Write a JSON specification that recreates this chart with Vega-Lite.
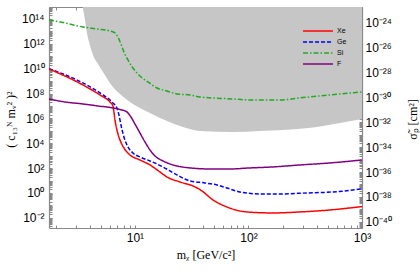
{
 "$schema": "https://vega.github.io/schema/vega-lite/v6.json",
 "width": 313, "height": 221,
 "autosize": {"type": "none"},
 "padding": {"left": 49, "top": 7, "right": 58, "bottom": 45},
 "background": "white",
 "config": {
  "view": {"stroke": null},
  "axis": {"grid": false, "domainColor": "#888", "tickColor": "#888", "domainWidth": 1.2, "tickWidth": 1,
   "labelFont": "Liberation Sans", "labelFontSize": 12, "labelColor": "black",
   "titleFont": "Liberation Serif", "titleFontWeight": "normal", "titleFontSize": 12, "titleColor": "black",
   "labelOverlap": false, "labelFlush": false, "tickSize": -3}
 },
 "datasets": {
  "gray": [
   {"x": 3.45, "y": 1.2e15}, {"x": 3.63, "y": 8.28e13}, {"x": 3.78, "y": 7.45e12}, {"x": 4.01, "y": 8.07e11},
   {"x": 4.27, "y": 1.27e11}, {"x": 4.72, "y": 2.39e10}, {"x": 5.23, "y": 5.43e9}, {"x": 5.78, "y": 1.23e9},
   {"x": 6.40, "y": 3.37e8}, {"x": 7.38, "y": 9.23e7}, {"x": 9.04, "y": 2.09e7}, {"x": 11.07, "y": 6.89e6},
   {"x": 13.56, "y": 2.73e6}, {"x": 19.14, "y": 6.21e5}, {"x": 26.48, "y": 2.04e5}, {"x": 37.38, "y": 9.73e4},
   {"x": 73.04, "y": 8.07e4}, {"x": 126.3, "y": 9.73e4}, {"x": 201.4, "y": 1.17e5}, {"x": 401.3, "y": 2.04e5},
   {"x": 640.2, "y": 4.29e5}, {"x": 1000, "y": 8.97e5}
  ],
  "lines": [
   {"n": "Ge", "x": 1.75, "y": 1.0e10}, {"n": "Ge", "x": 3.48, "y": 7.08e8}, {"n": "Ge", "x": 4.92, "y": 1.11e8},
   {"n": "Ge", "x": 6.40, "y": 1.74e7}, {"n": "Ge", "x": 6.94, "y": 6.89e6}, {"n": "Ge", "x": 7.23, "y": 1.88e6},
   {"n": "Ge", "x": 7.53, "y": 2.96e5}, {"n": "Ge", "x": 8.00, "y": 3.2e4}, {"n": "Ge", "x": 8.68, "y": 5.02e3},
   {"n": "Ge", "x": 9.60, "y": 1.65e3}, {"n": "Ge", "x": 11.07, "y": 787}, {"n": "Ge", "x": 13.56, "y": 375},
   {"n": "Ge", "x": 17.65, "y": 124}, {"n": "Ge", "x": 23.44, "y": 28.1}, {"n": "Ge", "x": 30.52, "y": 9.23},
   {"n": "Ge", "x": 41.38, "y": 6.38}, {"n": "Ge", "x": 52.8, "y": 4.40}, {"n": "Ge", "x": 64.6, "y": 2.52},
   {"n": "Ge", "x": 84.16, "y": 1.20}, {"n": "Ge", "x": 126.3, "y": 0.832}, {"n": "Ge", "x": 189.5, "y": 0.832},
   {"n": "Ge", "x": 327.6, "y": 1.0}, {"n": "Ge", "x": 555.4, "y": 1.2}, {"n": "Ge", "x": 1000, "y": 2.1},
   {"n": "Xe", "x": 1.75, "y": 9.46e9}, {"n": "Xe", "x": 3.48, "y": 4.89e8}, {"n": "Xe", "x": 4.92, "y": 7.66e7},
   {"n": "Xe", "x": 6.02, "y": 2.09e7}, {"n": "Xe", "x": 6.40, "y": 9.98e6}, {"n": "Xe", "x": 6.53, "y": 3.29e6},
   {"n": "Xe", "x": 6.67, "y": 7.46e5}, {"n": "Xe", "x": 6.94, "y": 1.17e5}, {"n": "Xe", "x": 7.38, "y": 1.84e4},
   {"n": "Xe", "x": 8.00, "y": 4.17e3}, {"n": "Xe", "x": 9.04, "y": 1.14e3}, {"n": "Xe", "x": 11.07, "y": 452},
   {"n": "Xe", "x": 13.56, "y": 179}, {"n": "Xe", "x": 16.6, "y": 48.9}, {"n": "Xe", "x": 19.14, "y": 19.4},
   {"n": "Xe", "x": 24.92, "y": 7.67}, {"n": "Xe", "x": 32.4, "y": 3.66}, {"n": "Xe", "x": 38.9, "y": 1.45},
   {"n": "Xe", "x": 48.67, "y": 0.274}, {"n": "Xe", "x": 64.6, "y": 0.0748}, {"n": "Xe", "x": 97.0, "y": 0.0296},
   {"n": "Xe", "x": 164.4, "y": 0.0246}, {"n": "Xe", "x": 284.2, "y": 0.0296}, {"n": "Xe", "x": 522.6, "y": 0.0429},
   {"n": "Xe", "x": 1000, "y": 0.08},
   {"n": "F", "x": 1.75, "y": 3.66e7}, {"n": "F", "x": 2.42, "y": 2.09e7}, {"n": "F", "x": 3.48, "y": 1.45e7},
   {"n": "F", "x": 4.72, "y": 9.98e6}, {"n": "F", "x": 6.40, "y": 6.89e6}, {"n": "F", "x": 7.68, "y": 4.75e6},
   {"n": "F", "x": 8.50, "y": 3.29e6}, {"n": "F", "x": 9.22, "y": 1.30e6}, {"n": "F", "x": 10, "y": 3.56e5},
   {"n": "F", "x": 11.07, "y": 6.71e4}, {"n": "F", "x": 12.25, "y": 1.27e4}, {"n": "F", "x": 13.56, "y": 2.88e3},
   {"n": "F", "x": 15.01, "y": 948}, {"n": "F", "x": 17.65, "y": 375}, {"n": "F", "x": 23.44, "y": 149},
   {"n": "F", "x": 30.52, "y": 103}, {"n": "F", "x": 45.8, "y": 85.3}, {"n": "F", "x": 68.71, "y": 85.3},
   {"n": "F", "x": 103.1, "y": 103}, {"n": "F", "x": 164.4, "y": 124}, {"n": "F", "x": 284.2, "y": 179},
   {"n": "F", "x": 522.6, "y": 259}, {"n": "F", "x": 1000, "y": 452},
   {"n": "Si", "x": 1.75, "y": 8.28e13}, {"n": "Si", "x": 2.42, "y": 4.75e13}, {"n": "Si", "x": 3.48, "y": 2.26e13},
   {"n": "Si", "x": 4.63, "y": 1.56e13}, {"n": "Si", "x": 6.02, "y": 1.08e13}, {"n": "Si", "x": 6.67, "y": 7.45e12},
   {"n": "Si", "x": 7.08, "y": 3.55e12}, {"n": "Si", "x": 7.53, "y": 9.7e11}, {"n": "Si", "x": 8.00, "y": 2.21e11},
   {"n": "Si", "x": 8.68, "y": 5.01e10}, {"n": "Si", "x": 9.60, "y": 1.14e10}, {"n": "Si", "x": 11.07, "y": 2.59e9},
   {"n": "Si", "x": 13.02, "y": 8.51e8}, {"n": "Si", "x": 15.62, "y": 2.8e8}, {"n": "Si", "x": 19.14, "y": 1.61e8},
   {"n": "Si", "x": 23.44, "y": 9.23e7}, {"n": "Si", "x": 30.52, "y": 7.66e7}, {"n": "Si", "x": 37.38, "y": 5.28e7},
   {"n": "Si", "x": 73.04, "y": 3.66e7}, {"n": "Si", "x": 103.1, "y": 3.03e7}, {"n": "Si", "x": 189.5, "y": 3.03e7},
   {"n": "Si", "x": 284.2, "y": 4.4e7}, {"n": "Si", "x": 522.6, "y": 7.66e7}, {"n": "Si", "x": 1000, "y": 1.34e8}
  ],
  "sig": [{"s": 1e-40}, {"s": 1e-24}]
 },
 "layer": [
  {
   "data": {"name": "gray"},
   "mark": {"type": "area", "color": "#c6c6c6", "clip": true, "interpolate": "monotone"},
   "encoding": {
    "x": {"field": "x", "type": "quantitative",
     "scale": {"type": "log", "domain": [1.75, 1000]},
     "axis": {"orient": "bottom", "title": "mᵪ [GeV/c²]", "titlePadding": 6, "labelPadding": 7,
      "values": [2,3,4,5,6,7,8,9,10,20,30,40,50,60,70,80,90,100,200,300,400,500,600,700,800,900,1000],
      "labelExpr": "datum.value == 10 ? '10¹' : datum.value == 100 ? '10²' : datum.value == 1000 ? '10³' : ''"}},
    "y": {"field": "y", "type": "quantitative",
     "scale": {"type": "log", "domain": [1.514e-3, 9.12e14]},
     "axis": {"orient": "left", "title": "( c₁₃ᴺ mᵥ² )²", "titleX": -39, "titleY": 112, "titleAlign": "center", "titleBaseline": "middle", "titleAngle": -90, "labelPadding": 8,
      "values": [2e-3,3e-3,4e-3,5e-3,6e-3,7e-3,8e-3,9e-3,1e-2,2e-2,3e-2,4e-2,5e-2,6e-2,7e-2,8e-2,9e-2,1e-1,2e-1,3e-1,4e-1,5e-1,6e-1,7e-1,8e-1,9e-1,1,2,3,4,5,6,7,8,9,1e1,2e1,3e1,4e1,5e1,6e1,7e1,8e1,9e1,1e2,2e2,3e2,4e2,5e2,6e2,7e2,8e2,9e2,1e3,2e3,3e3,4e3,5e3,6e3,7e3,8e3,9e3,1e4,2e4,3e4,4e4,5e4,6e4,7e4,8e4,9e4,1e5,2e5,3e5,4e5,5e5,6e5,7e5,8e5,9e5,1e6,2e6,3e6,4e6,5e6,6e6,7e6,8e6,9e6,1e7,2e7,3e7,4e7,5e7,6e7,7e7,8e7,9e7,1e8,2e8,3e8,4e8,5e8,6e8,7e8,8e8,9e8,1e9,2e9,3e9,4e9,5e9,6e9,7e9,8e9,9e9,1e10,2e10,3e10,4e10,5e10,6e10,7e10,8e10,9e10,1e11,2e11,3e11,4e11,5e11,6e11,7e11,8e11,9e11,1e12,2e12,3e12,4e12,5e12,6e12,7e12,8e12,9e12,1e13,2e13,3e13,4e13,5e13,6e13,7e13,8e13,9e13,1e14,2e14,3e14,4e14,5e14,6e14,7e14,8e14,9e14],
      "labelExpr": "abs(log(datum.value)/LN10 - round(log(datum.value)/LN10)) < 0.01 && round(log(datum.value)/LN10) % 2 == 0 ? '10' + replace(replace(replace(replace(replace(replace(replace(replace(replace(replace(replace('' + round(log(datum.value)/LN10), '-', '⁻'), '0', '⁰'), '1', '¹'), '2', '²'), '3', '³'), '4', '⁴'), '5', '⁵'), '6', '⁶'), '7', '⁷'), '8', '⁸'), '9', '⁹') : ''"}},
    "y2": {"datum": 1e16}
   }
  },
  {
   "data": {"name": "lines"},
   "mark": {"type": "line", "strokeWidth": 1.5, "interpolate": "monotone", "clip": true},
   "encoding": {
    "x": {"field": "x", "type": "quantitative",
     "scale": {"type": "log", "domain": [1.75, 1000]},
     "axis": {"orient": "top", "title": null, "labels": false,
      "values": [2,3,4,5,6,7,8,9,10,20,30,40,50,60,70,80,90,100,200,300,400,500,600,700,800,900,1000]}},
    "y": {"field": "y", "type": "quantitative",
     "scale": {"type": "log", "domain": [1.514e-3, 9.12e14]}, "axis": null},
    "color": {"field": "n", "type": "nominal",
     "scale": {"domain": ["Xe", "Ge", "Si", "F"], "range": ["#ff0000", "#0000ff", "#22aa22", "#800080"]},
     "legend": {"orient": "none", "legendX": 261, "legendY": 16, "title": null, "symbolType": "M-2.14,0H2.14",
      "symbolSize": 196, "symbolStrokeWidth": 1.5, "labelFont": "Liberation Sans", "labelFontSize": 7,
      "labelOffset": 11, "rowPadding": 0}},
    "strokeDash": {"field": "n", "type": "nominal",
     "scale": {"domain": ["Xe", "Ge", "Si", "F"], "range": [[1, 0], [4, 2], [5, 2, 1.5, 2], [1, 0]]},
     "legend": {"title": null}},
    "order": {"field": "x", "type": "quantitative"}
   }
  },
  {
   "data": {"name": "sig"},
   "mark": {"type": "point", "opacity": 0},
   "encoding": {
    "y": {"field": "s", "type": "quantitative",
     "scale": {"type": "log", "domain": [3.16e-41, 1.905e-23]},
     "axis": {"orient": "right", "title": "σ̃ₚ [cm²]", "titleX": 50, "titleY": 112, "titleAlign": "center", "titleBaseline": "middle", "titleAngle": -90, "labelPadding": 6,
      "values": [4e-41,5e-41,6e-41,7e-41,8e-41,9e-41,1e-40,2e-40,3e-40,4e-40,5e-40,6e-40,7e-40,8e-40,9e-40,1e-39,2e-39,3e-39,4e-39,5e-39,6e-39,7e-39,8e-39,9e-39,1e-38,2e-38,3e-38,4e-38,5e-38,6e-38,7e-38,8e-38,9e-38,1e-37,2e-37,3e-37,4e-37,5e-37,6e-37,7e-37,8e-37,9e-37,1e-36,2e-36,3e-36,4e-36,5e-36,6e-36,7e-36,8e-36,9e-36,1e-35,2e-35,3e-35,4e-35,5e-35,6e-35,7e-35,8e-35,9e-35,1e-34,2e-34,3e-34,4e-34,5e-34,6e-34,7e-34,8e-34,9e-34,1e-33,2e-33,3e-33,4e-33,5e-33,6e-33,7e-33,8e-33,9e-33,1e-32,2e-32,3e-32,4e-32,5e-32,6e-32,7e-32,8e-32,9e-32,1e-31,2e-31,3e-31,4e-31,5e-31,6e-31,7e-31,8e-31,9e-31,1e-30,2e-30,3e-30,4e-30,5e-30,6e-30,7e-30,8e-30,9e-30,1e-29,2e-29,3e-29,4e-29,5e-29,6e-29,7e-29,8e-29,9e-29,1e-28,2e-28,3e-28,4e-28,5e-28,6e-28,7e-28,8e-28,9e-28,1e-27,2e-27,3e-27,4e-27,5e-27,6e-27,7e-27,8e-27,9e-27,1e-26,2e-26,3e-26,4e-26,5e-26,6e-26,7e-26,8e-26,9e-26,1e-25,2e-25,3e-25,4e-25,5e-25,6e-25,7e-25,8e-25,9e-25,1e-24,2e-24,3e-24,4e-24,5e-24,6e-24,7e-24,8e-24,9e-24,1e-23],
      "labelExpr": "abs(log(datum.value)/LN10 - round(log(datum.value)/LN10)) < 0.01 && round(log(datum.value)/LN10) % 2 == 0 ? '10' + replace(replace(replace(replace(replace(replace(replace(replace(replace(replace(replace('' + round(log(datum.value)/LN10), '-', '⁻'), '0', '⁰'), '1', '¹'), '2', '²'), '3', '³'), '4', '⁴'), '5', '⁵'), '6', '⁶'), '7', '⁷'), '8', '⁸'), '9', '⁹') : ''"}}
   }
  }
 ],
 "resolve": {"scale": {"y": "independent"}, "axis": {"x": "independent", "y": "independent"}}
}
